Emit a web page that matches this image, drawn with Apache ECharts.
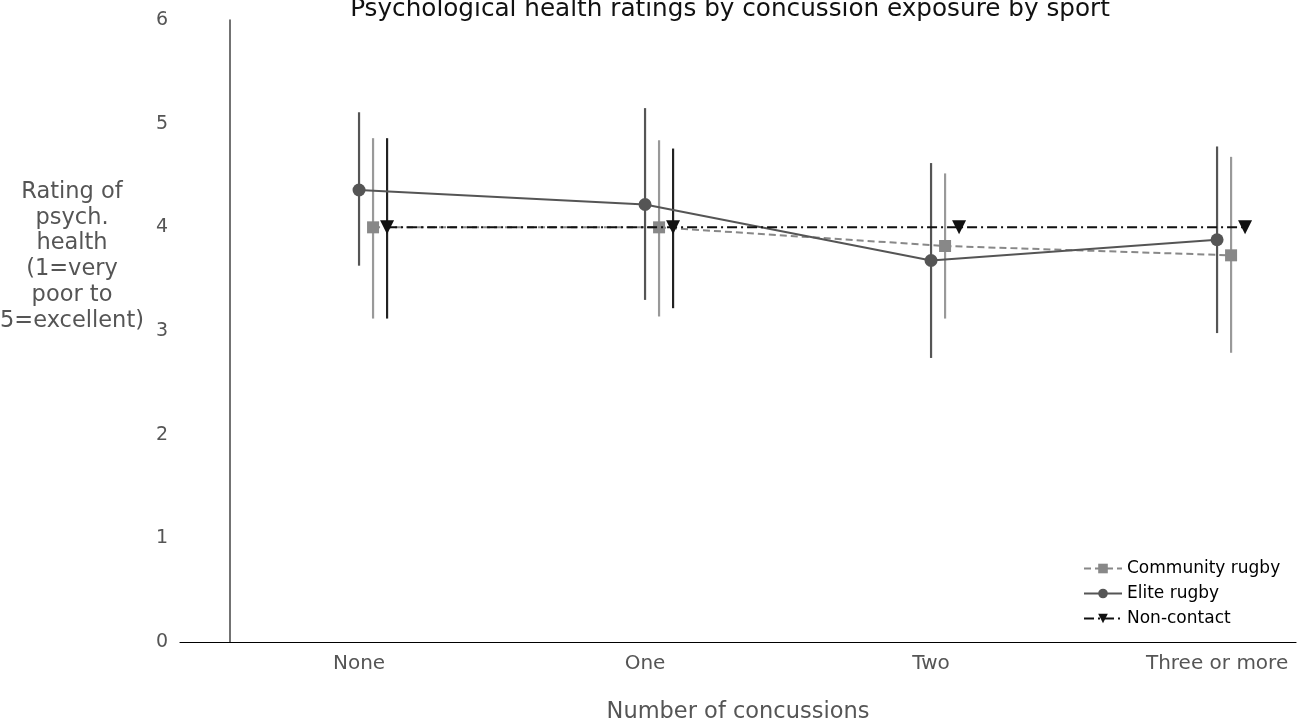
<!DOCTYPE html>
<html>
<head>
<meta charset="utf-8">
<script src="https://cdn.jsdelivr.net/npm/echarts@6/dist/echarts.min.js"></script>
<style>
html,body{margin:0;padding:0;background:#fff;}
#chart{width:1306px;height:725px;}
</style>
</head>
<body>
<div id="chart"></div>
<script>
var categories = ['None', 'One', 'Two', 'Three or more'];
var yTicks = [0, 1, 2, 3, 4, 5, 6];

var communityMean = [4.00, 4.00, 3.82, 3.73];
var communityLow  = [3.12, 3.14, 3.12, 2.79];
var communityHigh = [4.86, 4.84, 4.52, 4.68];

var eliteMean = [4.36, 4.22, 3.68, 3.88];
var eliteLow  = [3.63, 3.30, 2.74, 2.98];
var eliteHigh = [5.11, 5.15, 4.62, 4.78];

var nonContactMean = [4.00, 4.00, 4.00, 4.00];
var nonContactLow  = [3.12, 3.22, null, null];
var nonContactHigh = [4.86, 4.76, null, null];

var FONT = 'DejaVu Sans';
var DODGE = 0.049;

function pts(arr, off) {
  return arr.map(function (v, i) { return [i + off, v]; });
}
function errs(low, high, off) {
  var out = [];
  for (var i = 0; i < low.length; i++) {
    if (low[i] != null && high[i] != null) out.push([i + off, low[i], high[i]]);
  }
  return out;
}
function errSeries(data, color) {
  return {
    type: 'custom',
    data: data,
    silent: true,
    z: 1,
    encode: { x: 0, y: [1, 2] },
    renderItem: function (params, api) {
      var a = api.coord([api.value(0), api.value(1)]);
      var b = api.coord([api.value(0), api.value(2)]);
      return {
        type: 'line',
        shape: { x1: a[0], y1: a[1], x2: b[0], y2: b[1] },
        style: { stroke: color, lineWidth: 2.2 }
      };
    }
  };
}

var chart = echarts.init(document.getElementById('chart'), null, { renderer: 'canvas' });
chart.setOption({
  animation: false,
  backgroundColor: '#fff',
  title: {
    text: 'Psychological health ratings by concussion exposure by sport',
    left: 725, textAlign: 'center', top: -8,
    textStyle: { fontFamily: FONT, fontSize: 24.7, fontWeight: 'normal', color: '#111' }
  },
  grid: { left: 180, right: 10, top: 20, bottom: 83, outerBoundsMode: 'none', containLabel: false },
  legend: {
    orient: 'vertical',
    left: 1078, top: 555,
    itemWidth: 38, itemHeight: 12, itemGap: 8,
    textStyle: { fontFamily: FONT, fontSize: 17, color: '#000' },
    data: ['Community rugby', 'Elite rugby', 'Non-contact']
  },
  xAxis: {
    type: 'value',
    min: -0.626, max: 3.276,
    axisLine: { show: true, lineStyle: { color: '#000', width: 1.2 } },
    axisTick: { show: false },
    splitLine: { show: false },
    axisLabel: {
      customValues: [0, 1, 2, 3],
      formatter: function (v) { return categories[Math.round(v)]; },
      fontFamily: FONT, fontSize: 20, color: '#555', margin: 12
    },
    name: 'Number of concussions',
    nameLocation: 'middle', nameGap: 59,
    nameTextStyle: { fontFamily: FONT, fontSize: 22.5, color: '#555' }
  },
  yAxis: [{
    type: 'value', min: 0, max: 6, interval: 1,
    axisLine: { show: false }, axisTick: { show: false }, splitLine: { show: false },
    axisLabel: { fontFamily: FONT, fontSize: 19, color: '#555', margin: 12 }
  }, {
    type: 'value', min: 0, max: 6, interval: 1, position: 'left', offset: -50,
    axisLine: { show: true, lineStyle: { color: '#444', width: 1.5 } },
    axisTick: { show: false }, splitLine: { show: false }, axisLabel: { show: false }
  }],
  graphic: [{
    type: 'text', x: 72, y: 179,
    style: {
      text: 'Rating of\npsych.\nhealth\n(1=very\npoor to\n5=excellent)',
      fontFamily: FONT, fontSize: 22.5, lineHeight: 25.8, fill: '#555',
      align: 'center', verticalAlign: 'top'
    }
  }],
  series: [
    errSeries(errs(communityLow, communityHigh, DODGE), '#999'),
    errSeries(errs(eliteLow, eliteHigh, 0), '#555'),
    errSeries(errs(nonContactLow, nonContactHigh, 2 * DODGE), '#222'),
    {
      name: 'Community rugby', type: 'line', z: 3,
      data: pts(communityMean, DODGE),
      symbol: 'rect', symbolSize: 12,
      itemStyle: { color: '#888' },
      lineStyle: { color: '#888', width: 2, type: [7, 4] }
    },
    {
      name: 'Elite rugby', type: 'line', z: 4,
      data: pts(eliteMean, 0),
      symbol: 'circle', symbolSize: 13,
      itemStyle: { color: '#555' },
      lineStyle: { color: '#555', width: 2 }
    },
    {
      name: 'Non-contact', type: 'line', z: 5,
      data: pts(nonContactMean, 2 * DODGE),
      symbol: 'triangle', symbolRotate: 180, symbolSize: 14,
      itemStyle: { color: '#111' },
      lineStyle: { color: '#111', width: 2, type: [10, 4, 2, 4] }
    }
  ]
});
</script>
</body>
</html>
